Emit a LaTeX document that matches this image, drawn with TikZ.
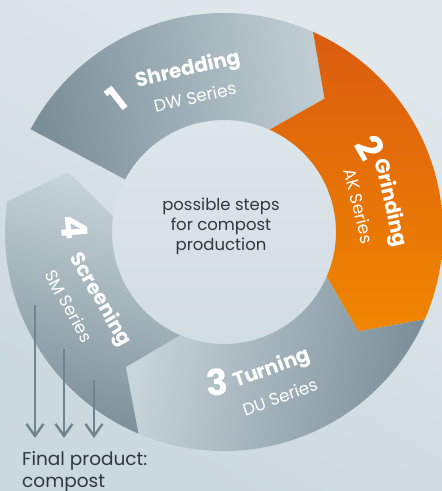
\documentclass[tikz,border=0pt]{standalone}
\usepackage{fontspec}
\setmainfont{Poppins}
\usetikzlibrary{arrows.meta}
\definecolor{bgA}{HTML}{E0E8EC}
\definecolor{bgB}{HTML}{CBD8DE}
\definecolor{innerA}{HTML}{DCE5EA}
\definecolor{innerB}{HTML}{D2DDE3}
\definecolor{sOneDark}{HTML}{7B8F99}
\definecolor{sOneLight}{HTML}{C0CED4}
\definecolor{orTop}{HTML}{DB5C10}
\definecolor{orBot}{HTML}{F08600}
\definecolor{sThreeLight}{HTML}{C8D5DB}
\definecolor{sThreeDark}{HTML}{7A8D97}
\definecolor{sFourLight}{HTML}{C8D5DB}
\definecolor{sFourDark}{HTML}{7A8E97}
\definecolor{arrowcol}{HTML}{6E848E}
\definecolor{txtdark}{HTML}{30393E}
\tikzset{
  numtxt/.style={text=white, inner sep=0pt, font=\fontsize{36}{36}\selectfont\bfseries},
  nametxt/.style={text=white, inner sep=0pt, font=\fontsize{20}{20}\selectfont\bfseries},
  sertxt/.style={text=white, inner sep=0pt, font=\fontsize{17}{17}\selectfont},
  outarrow/.style={draw=arrowcol, line width=2.4pt, -{Straight Barb[length=12pt,width=17pt,line width=2.4pt]}},
}
\def\Ro{219pt}
\def\Ri{112pt}
\def\Rm{167pt}
\begin{document}
\begin{tikzpicture}[x=1pt,y=1pt]
\useasboundingbox (-224,-259) rectangle (218,232);
\shade[top color=bgA, bottom color=bgB, shading angle=-30] (-224,-259) rectangle (218,232);
% inner circle
\shade[top color=innerA, bottom color=innerB] (0,0) circle (\Ri);
% segment 1
\shade[left color=sOneDark, right color=sOneLight, shading angle=100]
  (152:\Ro) arc[start angle=152, end angle=66, radius=\Ro] -- (53:\Rm) -- (66:\Ri)
  arc[start angle=66, end angle=152, radius=\Ri] -- cycle;
% segment 2
\shade[top color=orTop, bottom color=orBot]
  (66:\Ro) arc[start angle=66, end angle=-23.5, radius=\Ro] -- (-36.5:\Rm) -- (-23.5:\Ri)
  arc[start angle=-23.5, end angle=66, radius=\Ri] -- (53:\Rm) -- cycle;
% segment 3
\shade[left color=sThreeLight, right color=sThreeDark, shading angle=80]
  (-23.5:\Ro) arc[start angle=-23.5, end angle=-113, radius=\Ro] -- (-126:\Rm) -- (-113:\Ri)
  arc[start angle=-113, end angle=-23.5, radius=\Ri] -- (-36.5:\Rm) -- cycle;
% segment 4
\shade[top color=sFourLight, bottom color=sFourDark, shading angle=-15]
  (247:\Ro) arc[start angle=247, end angle=172, radius=\Ro] -- (159:\Rm) -- (172:\Ri)
  arc[start angle=172, end angle=247, radius=\Ri] -- (234:\Rm) -- cycle;
% labels
\node[numtxt, rotate=38] (n1) at (-107,133) {1};
\node[nametxt, rotate=13] (t1) at (-36,162) {Shredding};
\node[sertxt, rotate=13] (s1) at (-29,135) {DW Series};
\node[numtxt, rotate=-60] (n2) at (146,84) {2};
\node[nametxt, rotate=-77] (t2) at (166,29) {Grinding};
\node[sertxt, rotate=-76] (s2) at (135,26) {AK Series};
\node[numtxt, rotate=5] (n3) at (-7,-150) {3};
\node[nametxt, rotate=20] (t3) at (48,-137) {Turning};
\node[sertxt, rotate=20] (s3) at (56,-165) {DU Series};
\node[numtxt, rotate=-85] (n4) at (-150,4) {4};
\node[nametxt, rotate=-60] (t4) at (-124,-68) {Screening};
\node[sertxt, rotate=-61] (s4) at (-155,-74) {SM Series};
% center text
\node[align=center, text=txtdark, font=\fontsize{16.5}{20}\selectfont] (ctr) at (-3,6) {possible steps\\for compost\\production};
% output arrows
\coordinate (a1s) at (-189,-73);
\coordinate (a1e) at (-189,-206);
\coordinate (a2s) at (-160,-117);
\coordinate (a2e) at (-160,-206);
\coordinate (a3s) at (-130,-148);
\coordinate (a3e) at (-130,-206);
\draw[outarrow] (a1s) -- (a1e);
\draw[outarrow] (a2s) -- (a2e);
\draw[outarrow] (a3s) -- (a3e);
\node[anchor=base west, align=left, inner sep=0pt, text=txtdark, font=\fontsize{18.5}{22}\selectfont] (fin) at (-202,-255) {Final product:\\compost};
\end{tikzpicture}
\end{document}
